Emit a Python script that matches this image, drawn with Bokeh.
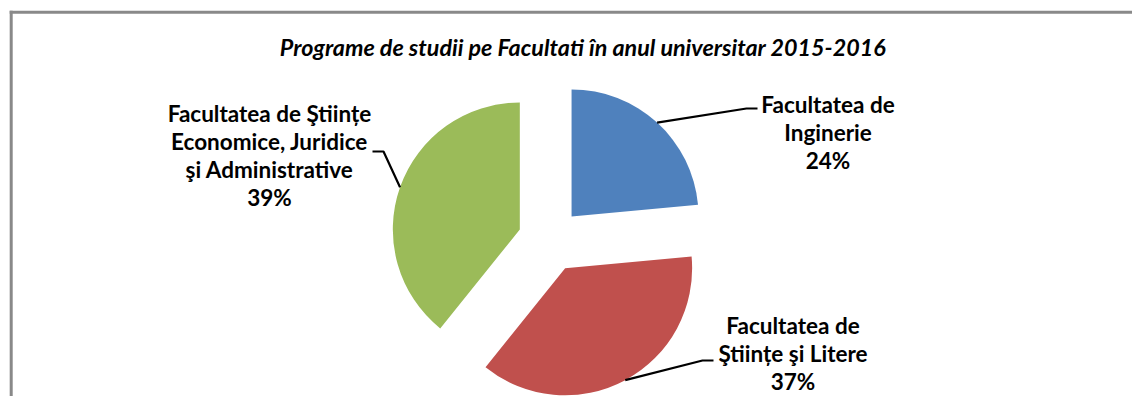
import math
from bokeh.plotting import figure
from bokeh.models import Range1d
from bokeh.core.properties import value
from bokeh.embed import file_html
from bokeh.resources import INLINE

# ---- data ----
title_text = "Programe de studii pe Facultati  în anul universitar 2015-2016"
faculty_lines = [
    ["Facultatea de", "Inginerie"],
    ["Facultatea de", "Ştiințe şi Litere"],
    ["Facultatea de Ştiințe", "Economice, Juridice", "şi Administrative"],
]
programs = [12, 19, 20]
colors = ["#4F81BD", "#C0504D", "#9BBB59"]

# ---- layout (pixels from the picture's top-left corner) ----
W, H = 1132, 396
def X(sx): return sx
def Y(sy): return H - sy

TEXT_SHIFT = 8.0          # renderer places alphabetic baseline this much lower
center = (X(549.5), Y(239.6))
R = 127
EXPLODE = 32
label_centers_x = [827.5, 792.5, 269]
label_first_baseline = [111.7, 333.0, 121.0]
LINE_STEP = 28.0
leader_tail = [
    [(746, 108), (757, 108)],
    [(702, 360), (713, 360)],
    [(383, 151), (372, 151)],
]

p = figure(width=W, height=H, output_backend="svg", toolbar_location=None,
           x_range=Range1d(0, W), y_range=Range1d(0, H),
           min_border=0, min_border_left=0, min_border_right=0,
           min_border_top=0, min_border_bottom=0)
p.axis.visible = False
p.grid.visible = False
p.outline_line_color = None
p.background_fill_color = "white"
p.border_fill_color = "white"

total = sum(programs)
cum = 0.0
xs, ys, a1s, a2s = [], [], [], []
lead_x, lead_y = [], []
tx, ty, tt = [], [], []
for i, v in enumerate(programs):
    c0 = cum / total
    c1 = (cum + v) / total
    cum += v
    a1 = math.pi / 2 - 2 * math.pi * c1
    a2 = math.pi / 2 - 2 * math.pi * c0
    mid = (a1 + a2) / 2
    vx = center[0] + EXPLODE * math.cos(mid)
    vy = center[1] + EXPLODE * math.sin(mid)
    xs.append(vx); ys.append(vy); a1s.append(a1); a2s.append(a2)
    sx = vx + R * math.cos(mid)
    sy = vy + R * math.sin(mid)
    lx, ly = [sx], [sy]
    for (px, py) in leader_tail[i]:
        lx.append(X(px))
        ly.append(Y(py))
    lead_x.append(lx); lead_y.append(ly)
    pct = "%d%%" % round(100.0 * v / total)
    lines = faculty_lines[i] + [pct]
    for k, s in enumerate(lines):
        tx.append(X(label_centers_x[i]))
        ty.append(Y(label_first_baseline[i] + k * LINE_STEP - TEXT_SHIFT))
        tt.append(s)

p.wedge(x=xs, y=ys, radius=R, start_angle=a1s, end_angle=a2s,
        direction="anticlock", fill_color=colors, line_color=None)

p.multi_line(xs=lead_x, ys=lead_y, line_color="black", line_width=2.2)

p.text(x=tx, y=ty, text=tt, text_font=value("Lato"), text_font_style="bold",
       text_font_size="22.5px", text_align="center", text_baseline="alphabetic",
       text_color="black")

p.text(x=[X(585)], y=[Y(54 - TEXT_SHIFT)], text=[title_text], text_font=value("Lato"),
       text_font_style="bold italic", text_font_size="23.3px",
       text_align="center", text_baseline="alphabetic", text_color="black")

# chart border (left and top edges visible; the rest lies outside the picture)
p.segment(x0=[X(10.7), X(9.2)], y0=[Y(10.2), Y(11.7)],
          x1=[X(10.7), X(W + 10)], y1=[Y(H + 10), Y(11.7)],
          line_color="#898989", line_width=3)

open("out.html", "w").write(file_html(p, INLINE))
